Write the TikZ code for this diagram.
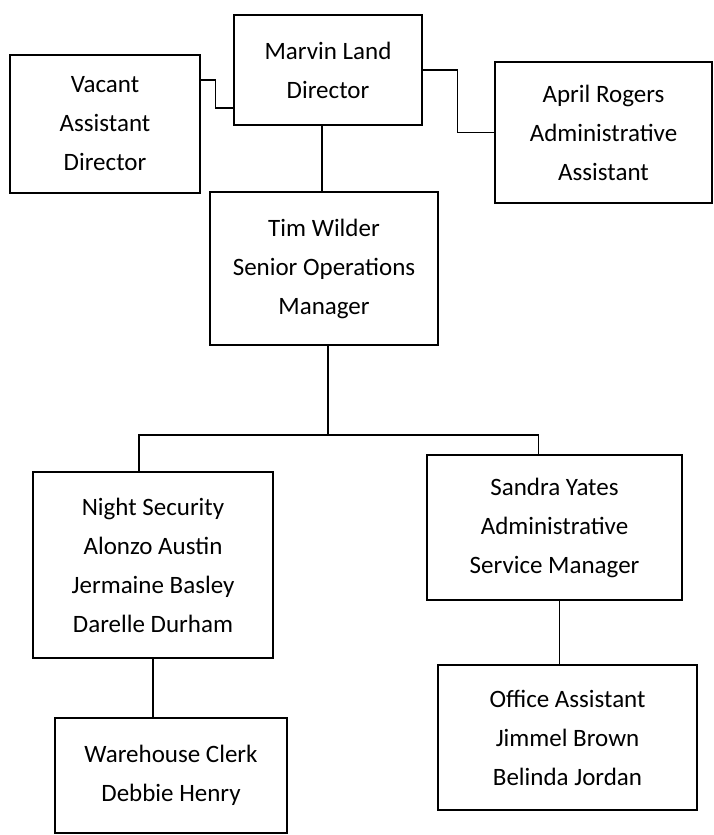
\documentclass[tikz,border=0pt]{standalone}
\usepackage{fontspec}
\setmainfont{Carlito}
\begin{document}
\begin{tikzpicture}[x=1pt,y=1pt,
  box/.style={draw, line width=1.3pt, align=center, inner sep=0pt,
    font=\fontsize{25}{39}\selectfont},
  link/.style={line width=1.3pt}]
\useasboundingbox (0,0) rectangle (714,-835);
\node[box, minimum width=190, minimum height=138] (vac) at (105,-124) {Vacant\\Assistant\\Director};
\node[box, minimum width=188, minimum height=110] (mar) at (328,-70) {Marvin Land\\Director};
\node[box, minimum width=217, minimum height=141] (apr) at (603.5,-132.5) {April Rogers\\Administrative\\Assistant};
\node[box, minimum width=228, minimum height=153] (tim) at (324,-268.5) {Tim Wilder\\Senior Operations\\Manager};
\node[box, minimum width=240, minimum height=186] (nig) at (153,-565) {Night Security\\Alonzo Austin\\Jermaine Basley\\Darelle Durham};
\node[box, minimum width=255, minimum height=145] (san) at (554.5,-527.5) {Sandra Yates\\Administrative\\Service Manager};
\node[box, minimum width=232, minimum height=115] (war) at (171,-775.5) {Warehouse Clerk\\Debbie Henry};
\node[box, minimum width=259, minimum height=145] (off) at (567.5,-737.5) {Office Assistant\\Jimmel Brown\\Belinda Jordan};
\coordinate (bus) at (328,-435);
\draw[link] ([yshift=44]vac.east) -- ++(15,0) |- ([yshift=-38]mar.west);
\draw[link] (mar.east) -- ++(35,0) |- (apr.west);
\draw[link] ([xshift=-6]mar.south) -- ([xshift=-6]mar.south |- tim.north);
\draw[link] ([xshift=4]tim.south) -- (bus);
\draw[link] ([xshift=-14]nig.north) |- (bus) -| ([xshift=-16]san.north);
\draw[link] (nig.south) -- (nig.south |- war.north);
\draw[link] ([xshift=5]san.south) -- ([xshift=5]san.south |- off.north);
\end{tikzpicture}
\end{document}
